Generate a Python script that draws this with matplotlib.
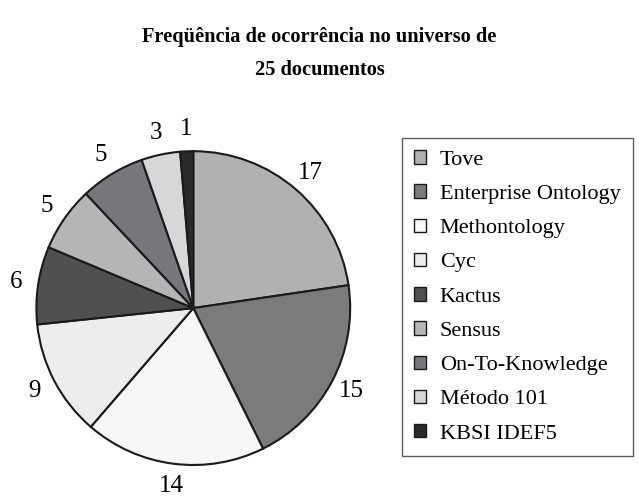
import matplotlib.pyplot as plt
from matplotlib.patches import Patch

plt.rcParams['font.family'] = ['Liberation Serif', 'DejaVu Serif']

# Frequency per methodology
methods = ['Tove', 'Enterprise Ontology', 'Methontology', 'Cyc', 'Kactus',
           'Sensus', 'On-To-Knowledge', 'Método 101', 'KBSI IDEF5']
counts = [17, 15, 14, 9, 6, 5, 5, 3, 1]
colors = ['#b0b1b3', '#7a7b7d', '#f7f7f7', '#eceeed', '#505052',
          '#b3b5b6', '#77787b', '#d5d7d8', '#2a2a2c']

fig = plt.figure(figsize=(6.39, 5.03), dpi=100)
# title as two lines
fig.text(0.5, 1 - 37 / 503, 'Freqüência de ocorrência no universo de',
         ha='center', va='center', fontsize=14.7, fontweight='bold')
fig.text(0.5, 1 - 70 / 503, '25 documentos',
         ha='center', va='center', fontsize=14.7, fontweight='bold')

ax = fig.add_axes([-0.017, -0.018, 0.639, 0.811])
wedges, texts = ax.pie(counts, colors=colors, startangle=90, counterclock=False,
                       labels=[str(c) for c in counts], labeldistance=1.14,
                       wedgeprops=dict(edgecolor='#1a1a1a', linewidth=1.5))
for t in texts:
    t.set_fontsize(18)
    t.set_ha('center')
    t.set_va('center')
ax.set_xlim(-1.3, 1.3)
ax.set_ylim(-1.3, 1.3)
ax.set_aspect('equal')
ax.axis('off')

handles = [Patch(facecolor=c, edgecolor='#1a1a1a', linewidth=1.0) for c in colors]
leg = fig.legend(handles, methods, loc='upper left',
                 bbox_to_anchor=(402 / 639, 1 - 138 / 503),
                 fontsize=16, frameon=True, fancybox=False,
                 handlelength=0.55, handleheight=0.55, handletextpad=0.6,
                 labelspacing=0.66, borderpad=0.55, borderaxespad=0)
leg.get_frame().set_edgecolor('#333333')
leg.get_frame().set_linewidth(1.0)

fig.savefig('out.png', dpi=100)
